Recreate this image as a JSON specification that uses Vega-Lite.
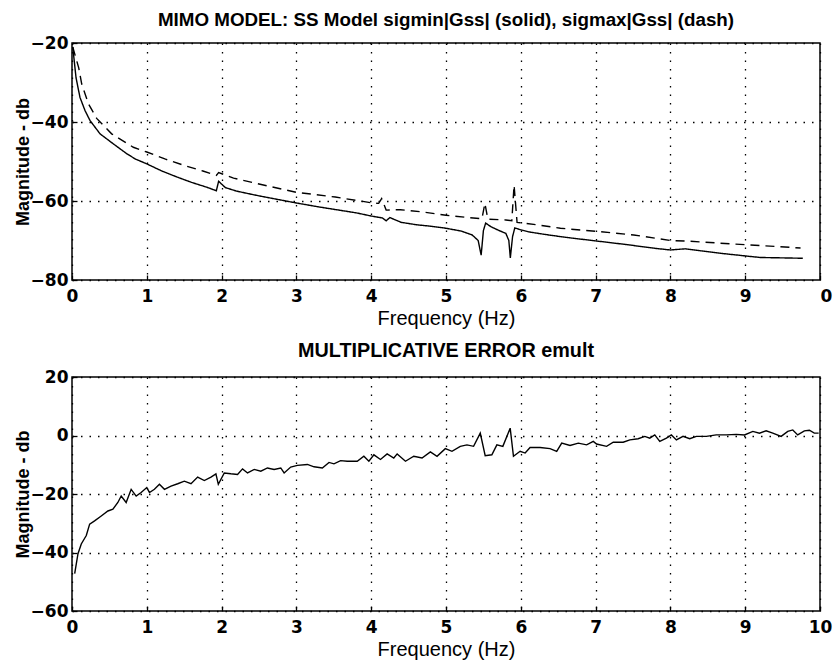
{
  "$schema": "https://vega.github.io/schema/vega-lite/v6.json",
  "background": "white",
  "padding": {"left": 13, "top": 10, "right": 5, "bottom": 5},
  "bounds": "flush",
  "spacing": 97,
  "config": {
    "view": {"stroke": "black", "strokeWidth": 1.5},
    "axis": {
      "domain": false,
      "grid": true,
      "gridColor": "black",
      "gridDash": [1.5, 7],
      "gridWidth": 1.3,
      "gridOpacity": 1,
      "ticks": true,
      "tickSize": -5,
      "tickColor": "black",
      "tickWidth": 1.3,
      "labelFont": "DejaVu Sans",
      "labelFontWeight": "bold",
      "labelFontSize": 17,
      "labelColor": "black",
      "labelOverlap": false,
      "labelFlush": false,
      "titleColor": "black"
    },
    "axisX": {"labelPadding": 13, "titleFont": "Liberation Sans", "titleFontWeight": "normal", "titleFontSize": 20, "titlePadding": 4},
    "axisY": {"labelPadding": 9, "titleFont": "Liberation Sans", "titleFontWeight": "bold", "titleFontSize": 18, "titlePadding": -2},
    "title": {"font": "Liberation Sans", "fontWeight": "bold", "color": "black", "baseline": "alphabetic", "anchor": "middle"}
  },
  "datasets": {
    "model": [
      {"f": 0.01, "v": -21.0, "s": "sigmin"},
      {"f": 0.054, "v": -28.8, "s": "sigmin"},
      {"f": 0.107, "v": -33.8, "s": "sigmin"},
      {"f": 0.174, "v": -37.1, "s": "sigmin"},
      {"f": 0.24, "v": -39.6, "s": "sigmin"},
      {"f": 0.375, "v": -43.0, "s": "sigmin"},
      {"f": 0.55, "v": -45.5, "s": "sigmin"},
      {"f": 0.73, "v": -48.0, "s": "sigmin"},
      {"f": 0.85, "v": -49.4, "s": "sigmin"},
      {"f": 1.0, "v": -50.6, "s": "sigmin"},
      {"f": 1.2, "v": -52.4, "s": "sigmin"},
      {"f": 1.4, "v": -53.9, "s": "sigmin"},
      {"f": 1.6, "v": -55.3, "s": "sigmin"},
      {"f": 1.8, "v": -56.5, "s": "sigmin"},
      {"f": 1.93, "v": -57.4, "s": "sigmin"},
      {"f": 1.96, "v": -55.0, "s": "sigmin"},
      {"f": 2.05, "v": -56.6, "s": "sigmin"},
      {"f": 2.2, "v": -57.5, "s": "sigmin"},
      {"f": 2.5, "v": -58.7, "s": "sigmin"},
      {"f": 2.75, "v": -59.6, "s": "sigmin"},
      {"f": 3.0, "v": -60.5, "s": "sigmin"},
      {"f": 3.3, "v": -61.5, "s": "sigmin"},
      {"f": 3.6, "v": -62.4, "s": "sigmin"},
      {"f": 3.8, "v": -63.0, "s": "sigmin"},
      {"f": 4.0, "v": -63.8, "s": "sigmin"},
      {"f": 4.15, "v": -64.3, "s": "sigmin"},
      {"f": 4.2, "v": -65.0, "s": "sigmin"},
      {"f": 4.25, "v": -64.2, "s": "sigmin"},
      {"f": 4.4, "v": -65.4, "s": "sigmin"},
      {"f": 4.6, "v": -66.0, "s": "sigmin"},
      {"f": 4.8, "v": -66.4, "s": "sigmin"},
      {"f": 5.0, "v": -66.9, "s": "sigmin"},
      {"f": 5.2, "v": -67.6, "s": "sigmin"},
      {"f": 5.35, "v": -68.6, "s": "sigmin"},
      {"f": 5.43, "v": -70.0, "s": "sigmin"},
      {"f": 5.47, "v": -73.7, "s": "sigmin"},
      {"f": 5.5, "v": -67.5, "s": "sigmin"},
      {"f": 5.53, "v": -65.6, "s": "sigmin"},
      {"f": 5.6, "v": -66.5, "s": "sigmin"},
      {"f": 5.7, "v": -67.4, "s": "sigmin"},
      {"f": 5.8, "v": -68.2, "s": "sigmin"},
      {"f": 5.84, "v": -70.0, "s": "sigmin"},
      {"f": 5.86, "v": -74.4, "s": "sigmin"},
      {"f": 5.89, "v": -69.0, "s": "sigmin"},
      {"f": 5.92, "v": -66.8, "s": "sigmin"},
      {"f": 6.0, "v": -67.3, "s": "sigmin"},
      {"f": 6.1, "v": -67.8, "s": "sigmin"},
      {"f": 6.3, "v": -68.4, "s": "sigmin"},
      {"f": 6.6, "v": -69.2, "s": "sigmin"},
      {"f": 7.0, "v": -70.1, "s": "sigmin"},
      {"f": 7.4, "v": -71.0, "s": "sigmin"},
      {"f": 7.8, "v": -72.0, "s": "sigmin"},
      {"f": 8.0, "v": -72.4, "s": "sigmin"},
      {"f": 8.2, "v": -72.1, "s": "sigmin"},
      {"f": 8.4, "v": -72.6, "s": "sigmin"},
      {"f": 8.7, "v": -73.3, "s": "sigmin"},
      {"f": 9.0, "v": -73.9, "s": "sigmin"},
      {"f": 9.2, "v": -74.3, "s": "sigmin"},
      {"f": 9.5, "v": -74.4, "s": "sigmin"},
      {"f": 9.77, "v": -74.5, "s": "sigmin"},
      {"f": 0.01, "v": -21.0, "s": "sigmax"},
      {"f": 0.09, "v": -26.3, "s": "sigmax"},
      {"f": 0.13, "v": -30.4, "s": "sigmax"},
      {"f": 0.22, "v": -35.4, "s": "sigmax"},
      {"f": 0.33, "v": -39.1, "s": "sigmax"},
      {"f": 0.53, "v": -43.0, "s": "sigmax"},
      {"f": 0.82, "v": -46.4, "s": "sigmax"},
      {"f": 1.0, "v": -47.6, "s": "sigmax"},
      {"f": 1.25, "v": -49.4, "s": "sigmax"},
      {"f": 1.5, "v": -51.0, "s": "sigmax"},
      {"f": 1.75, "v": -52.4, "s": "sigmax"},
      {"f": 1.93, "v": -53.5, "s": "sigmax"},
      {"f": 1.96, "v": -52.8, "s": "sigmax"},
      {"f": 2.16, "v": -54.2, "s": "sigmax"},
      {"f": 2.5, "v": -55.7, "s": "sigmax"},
      {"f": 3.0, "v": -57.8, "s": "sigmax"},
      {"f": 3.52, "v": -59.0, "s": "sigmax"},
      {"f": 4.02, "v": -60.5, "s": "sigmax"},
      {"f": 4.1, "v": -60.6, "s": "sigmax"},
      {"f": 4.14, "v": -59.4, "s": "sigmax"},
      {"f": 4.2, "v": -62.3, "s": "sigmax"},
      {"f": 4.39, "v": -62.2, "s": "sigmax"},
      {"f": 4.66, "v": -62.7, "s": "sigmax"},
      {"f": 5.0, "v": -63.6, "s": "sigmax"},
      {"f": 5.25, "v": -64.1, "s": "sigmax"},
      {"f": 5.48, "v": -64.5, "s": "sigmax"},
      {"f": 5.52, "v": -60.6, "s": "sigmax"},
      {"f": 5.56, "v": -64.6, "s": "sigmax"},
      {"f": 5.8, "v": -64.8, "s": "sigmax"},
      {"f": 5.88, "v": -65.0, "s": "sigmax"},
      {"f": 5.91, "v": -56.0, "s": "sigmax"},
      {"f": 5.95, "v": -65.4, "s": "sigmax"},
      {"f": 6.2, "v": -66.0, "s": "sigmax"},
      {"f": 6.53, "v": -66.9, "s": "sigmax"},
      {"f": 7.02, "v": -67.7, "s": "sigmax"},
      {"f": 7.51, "v": -68.6, "s": "sigmax"},
      {"f": 8.0, "v": -70.0, "s": "sigmax"},
      {"f": 8.27, "v": -70.2, "s": "sigmax"},
      {"f": 8.6, "v": -70.6, "s": "sigmax"},
      {"f": 9.03, "v": -71.1, "s": "sigmax"},
      {"f": 9.4, "v": -71.5, "s": "sigmax"},
      {"f": 9.74, "v": -71.9, "s": "sigmax"}
    ],
    "emult": [
      {"f": 0.036, "v": -47.2}, {"f": 0.08, "v": -40.4}, {"f": 0.124, "v": -37.1}, {"f": 0.191, "v": -34.2},
      {"f": 0.236, "v": -30.3}, {"f": 0.302, "v": -29.2}, {"f": 0.391, "v": -27.5}, {"f": 0.48, "v": -25.8},
      {"f": 0.547, "v": -25.2}, {"f": 0.613, "v": -22.9}, {"f": 0.658, "v": -20.7}, {"f": 0.724, "v": -22.9},
      {"f": 0.791, "v": -18.4}, {"f": 0.858, "v": -20.7}, {"f": 0.924, "v": -19.5}, {"f": 1.0, "v": -17.8},
      {"f": 1.036, "v": -19.5}, {"f": 1.102, "v": -18.4}, {"f": 1.169, "v": -16.7}, {"f": 1.236, "v": -18.4},
      {"f": 1.324, "v": -17.3}, {"f": 1.413, "v": -16.5}, {"f": 1.502, "v": -15.6}, {"f": 1.591, "v": -16.5},
      {"f": 1.68, "v": -14.2}, {"f": 1.769, "v": -15.4}, {"f": 1.858, "v": -14.2}, {"f": 1.924, "v": -13.1},
      {"f": 1.956, "v": -16.7}, {"f": 2.036, "v": -12.8}, {"f": 2.124, "v": -13.1}, {"f": 2.213, "v": -13.3},
      {"f": 2.28, "v": -11.4}, {"f": 2.347, "v": -12.8}, {"f": 2.436, "v": -11.6}, {"f": 2.524, "v": -12.2},
      {"f": 2.613, "v": -11.1}, {"f": 2.702, "v": -11.6}, {"f": 2.791, "v": -11.1}, {"f": 2.836, "v": -12.8},
      {"f": 2.924, "v": -10.8}, {"f": 3.013, "v": -10.2}, {"f": 3.147, "v": -9.9}, {"f": 3.236, "v": -10.7},
      {"f": 3.347, "v": -11.1}, {"f": 3.436, "v": -9.2}, {"f": 3.502, "v": -9.7}, {"f": 3.591, "v": -8.6},
      {"f": 3.68, "v": -8.8}, {"f": 3.813, "v": -8.8}, {"f": 3.902, "v": -7.1}, {"f": 3.969, "v": -8.8},
      {"f": 4.036, "v": -6.6}, {"f": 4.124, "v": -8.2}, {"f": 4.213, "v": -6.3}, {"f": 4.302, "v": -7.7},
      {"f": 4.347, "v": -6.3}, {"f": 4.458, "v": -8.8}, {"f": 4.569, "v": -7.1}, {"f": 4.68, "v": -7.7},
      {"f": 4.791, "v": -5.6}, {"f": 4.88, "v": -7.1}, {"f": 4.991, "v": -4.5}, {"f": 5.08, "v": -5.4},
      {"f": 5.191, "v": -3.7}, {"f": 5.28, "v": -3.2}, {"f": 5.369, "v": -3.7}, {"f": 5.458, "v": 0.8},
      {"f": 5.524, "v": -6.9}, {"f": 5.613, "v": -6.6}, {"f": 5.68, "v": -3.2}, {"f": 5.76, "v": -3.7},
      {"f": 5.858, "v": 2.5}, {"f": 5.902, "v": -7.1}, {"f": 5.991, "v": -5.4}, {"f": 6.058, "v": -6.0},
      {"f": 6.124, "v": -4.1}, {"f": 6.258, "v": -4.1}, {"f": 6.391, "v": -4.5}, {"f": 6.48, "v": -5.4},
      {"f": 6.547, "v": -2.6}, {"f": 6.658, "v": -3.4}, {"f": 6.769, "v": -2.6}, {"f": 6.88, "v": -3.2},
      {"f": 6.969, "v": -2.0}, {"f": 7.013, "v": -2.9}, {"f": 7.147, "v": -3.7}, {"f": 7.236, "v": -2.3},
      {"f": 7.369, "v": -2.3}, {"f": 7.458, "v": -1.5}, {"f": 7.569, "v": -1.1}, {"f": 7.658, "v": -0.3},
      {"f": 7.724, "v": -0.9}, {"f": 7.791, "v": 0.2}, {"f": 7.858, "v": -2.0}, {"f": 7.947, "v": -0.9},
      {"f": 8.013, "v": 0.2}, {"f": 8.08, "v": -1.5}, {"f": 8.169, "v": -0.3}, {"f": 8.258, "v": -1.1},
      {"f": 8.347, "v": -0.3}, {"f": 8.48, "v": -0.3}, {"f": 8.613, "v": 0.2}, {"f": 8.747, "v": 0.2},
      {"f": 8.88, "v": 0.4}, {"f": 8.991, "v": 0.2}, {"f": 9.102, "v": 1.4}, {"f": 9.191, "v": 0.8},
      {"f": 9.28, "v": 1.6}, {"f": 9.369, "v": 0.8}, {"f": 9.48, "v": -0.3}, {"f": 9.569, "v": 1.4},
      {"f": 9.636, "v": 1.9}, {"f": 9.702, "v": 0.2}, {"f": 9.791, "v": 1.6}, {"f": 9.858, "v": 1.8},
      {"f": 9.924, "v": 0.8}, {"f": 9.982, "v": 0.8}
    ]
  },
  "vconcat": [
    {
      "width": 748,
      "height": 237,
      "title": {"text": "MIMO MODEL: SS Model sigmin|Gss| (solid), sigmax|Gss| (dash)", "offset": 4, "fontSize": 18.8},
      "data": {"name": "model"},
      "mark": {"type": "line", "color": "black", "strokeWidth": 1.4, "clip": true},
      "encoding": {
        "x": {"field": "f", "type": "quantitative", "scale": {"domain": [0, 10], "nice": false, "zero": false},
          "axis": {"title": "Frequency (Hz)", "values": [0, 1, 2, 3, 4, 5, 6, 7, 8, 9, 10],
            "labelExpr": "datum.value == 10 ? '0' : datum.label",
            "labelAlign": {"condition": {"test": "datum.value == 10", "value": "left"}, "value": "center"}}},
        "y": {"field": "v", "type": "quantitative", "scale": {"domain": [-80, -20], "nice": false, "zero": false},
          "axis": {"title": "Magnitude - db", "values": [-80, -60, -40, -20]}},
        "strokeDash": {"field": "s", "type": "nominal", "scale": {"domain": ["sigmin", "sigmax"], "range": [[1, 0], [9, 6]]}, "legend": null}
      }
    },
    {
      "width": 748,
      "height": 234,
      "title": {"text": "MULTIPLICATIVE ERROR emult", "offset": 7, "fontSize": 19.8},
      "data": {"name": "emult"},
      "mark": {"type": "line", "color": "black", "strokeWidth": 1.4, "clip": true},
      "encoding": {
        "x": {"field": "f", "type": "quantitative", "scale": {"domain": [0, 10], "nice": false, "zero": false},
          "axis": {"title": "Frequency (Hz)", "values": [0, 1, 2, 3, 4, 5, 6, 7, 8, 9, 10]}},
        "y": {"field": "v", "type": "quantitative", "scale": {"domain": [-60, 20], "nice": false, "zero": false},
          "axis": {"title": "Magnitude - db", "values": [-60, -40, -20, 0, 20]}}
      }
    }
  ]
}
